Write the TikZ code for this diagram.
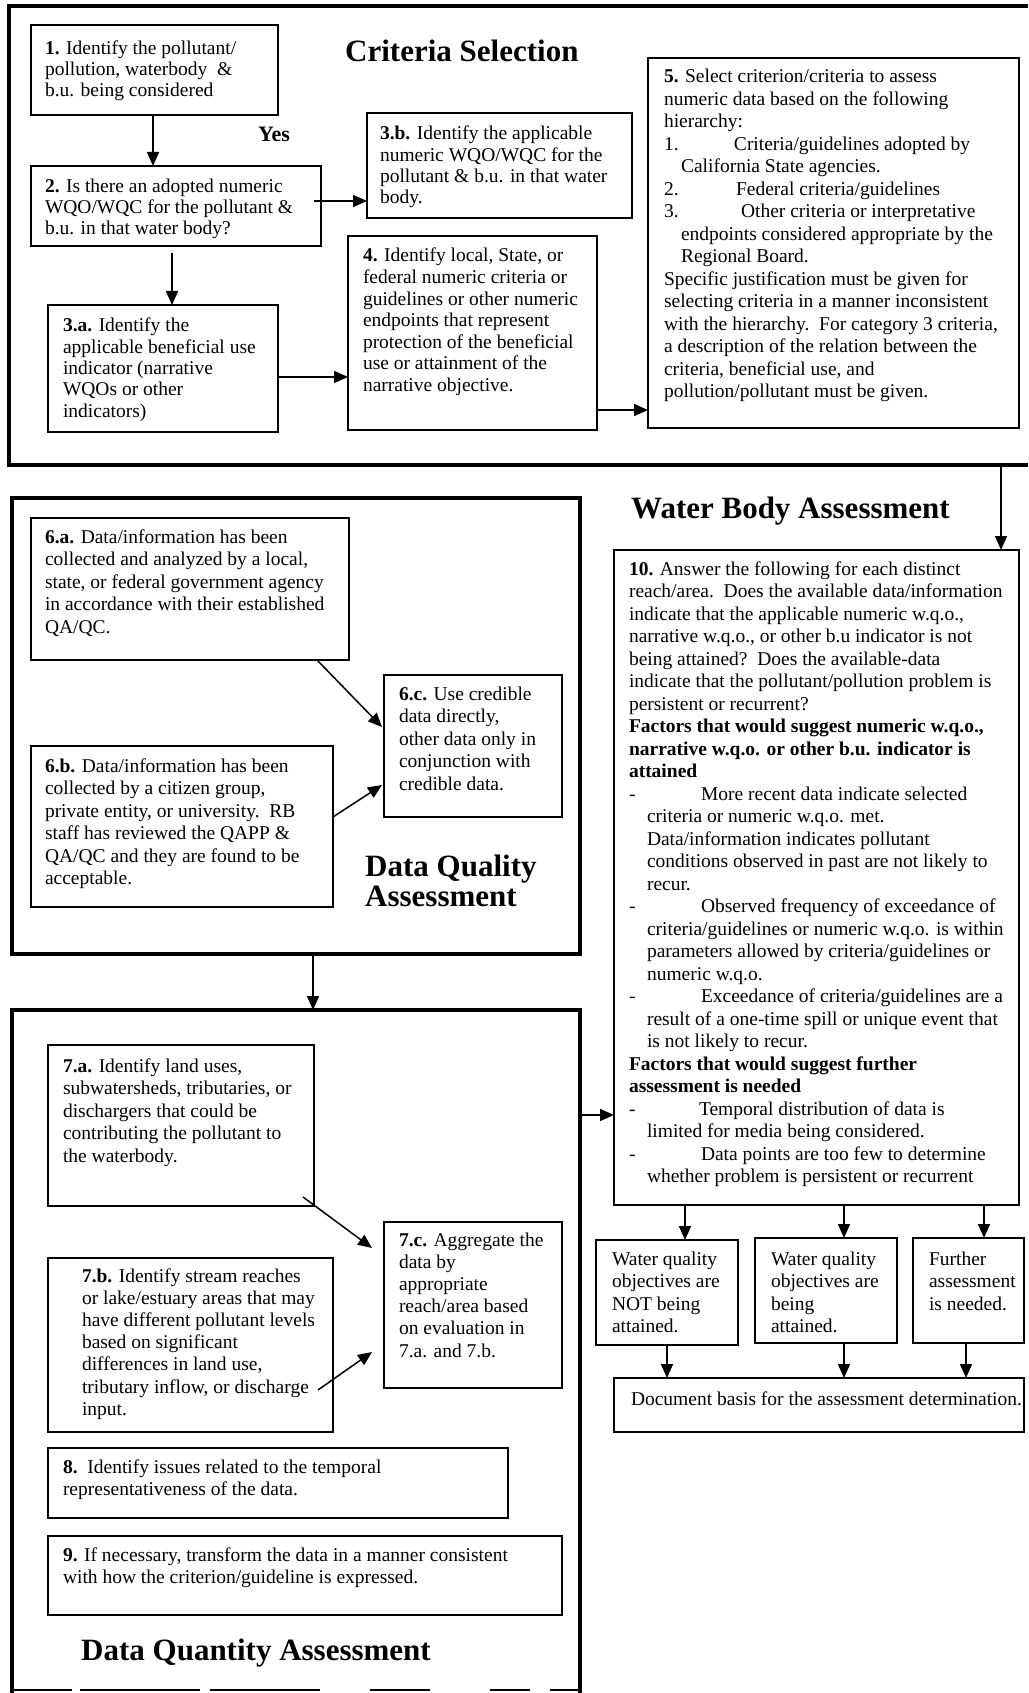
\documentclass[tikz,border=0pt]{standalone}
\usepackage{fontspec}
\setmainfont{Liberation Serif}
\usetikzlibrary{arrows.meta,calc}
% #1 width, #2 height, #3 left pad, #4 first baseline offset, #5 baselineskip, #6 text
\newcommand{\bt}[6]{\parbox[t][#2pt][t]{#1pt}{\fontsize{19.5pt}{#5pt}\selectfont\raggedright\leftskip=#3pt\relax\rightskip=-30pt plus 1fil\relax\vspace*{\dimexpr#4pt-0.7\baselineskip\relax}\strut #6}}
\newcommand{\tb}[2]{\makebox[#1pt][l]{#2}}
\begin{document}
\begin{tikzpicture}[x=1pt,y=-1pt,
 bx/.style={draw,line width=1.6pt,anchor=north west,inner sep=0pt,outer sep=0pt},
 arr/.style={line width=1.5pt,-{Triangle[length=14pt,width=12pt]}},
 ttl/.style={anchor=base west,inner sep=0pt,font=\fontsize{31pt}{31pt}\selectfont\bfseries},
 frm/.style={line width=3.5pt}]
\useasboundingbox (0,0) rectangle (1028,1693);
\fill[white] (0,0) rectangle (1028,1693);

% helper coordinates
\coordinate (x153) at (153,0);
\coordinate (x172) at (172,0);
\coordinate (y201) at (0,201);
\coordinate (y377) at (0,377);
\coordinate (y410) at (0,410);
\coordinate (c10) at (1001,465);
\coordinate (x313) at (313,0);
\coordinate (y1115) at (0,1115);
\coordinate (xa) at (685,0);
\coordinate (xb) at (844,0);
\coordinate (xc) at (984,0);
\coordinate (xd) at (667,0);
\coordinate (xe) at (966,0);

% ---------------- Criteria Selection frame
\coordinate (critTR) at (1028,6);
\coordinate (critTL) at (9,6);
\coordinate (critBL) at (9,465);
\coordinate (critBR) at (1028,465);
\draw[frm] (critTR) -- (critTL) -- (critBL) -- (critBR);

\node[ttl] (tcs) at (345,62) {Criteria Selection};
\node[anchor=base west,inner sep=0pt,font=\fontsize{22pt}{22pt}\selectfont\bfseries] (yes) at (258,142) {Yes};

\node[bx] (n1) at (31,25) {\bt{247}{90}{14}{30}{21}{\textbf{1.} Identify the pollutant/\\pollution, waterbody \ \&\\b.u. being considered}};
\node[bx] (n2) at (31,166) {\bt{290}{80}{14}{27}{21}{\textbf{2.} Is there an adopted numeric\\WQO/WQC for the pollutant \&\\b.u. in that water body?}};
\node[bx] (n3b) at (367,113) {\bt{265}{105}{13}{27}{21.3}{\textbf{3.b.} Identify the applicable\\numeric WQO/WQC for the\\pollutant \& b.u. in that water\\body.}};
\node[bx] (n3a) at (48,305) {\bt{230}{127}{15}{27}{21.3}{\textbf{3.a.} Identify the\\applicable beneficial use\\indicator (narrative\\WQOs or other\\indicators)}};
\node[bx] (n4) at (348,236) {\bt{249}{194}{15}{26}{21.6}{\textbf{4.} Identify local, State, or\\federal numeric criteria or\\guidelines or other numeric\\endpoints that represent\\protection of the beneficial\\use or attainment of the\\narrative objective.}};
\node[bx] (n5) at (648,58) {\bt{371}{370}{16}{25}{22.5}{\textbf{5.} Select criterion/criteria to assess\\numeric data based on the following\\hierarchy:\\\tb{70}{1.}Criteria/guidelines adopted by\\\hspace*{17pt}California State agencies.\\\tb{72}{2.}Federal criteria/guidelines\\\tb{77}{3.}Other criteria or interpretative\\\hspace*{17pt}endpoints considered appropriate by the\\\hspace*{17pt}Regional Board.\\Specific justification must be given for\\selecting criteria in a manner inconsistent\\with the hierarchy.\ \ For category 3 criteria,\\a description of the relation between the\\criteria, beneficial use, and\\pollution/pollutant must be given.}};

% ---------------- Water Body Assessment
\node[ttl] (twb) at (631,518) {Water Body Assessment};
\node[bx] (n10) at (614,550) {\bt{405}{655}{15}{25}{22.5}{\textbf{10.} Answer the following for each distinct\\reach/area.\ \ Does the available data/information\\indicate that the applicable numeric w.q.o.,\\narrative w.q.o., or other b.u indicator is not\\being attained?\ \ Does the available-data\\indicate that the pollutant/pollution problem is\\persistent or recurrent?\\\textbf{Factors that would suggest numeric w.q.o.,}\\\textbf{narrative w.q.o. or other b.u. indicator is}\\\textbf{attained}\\\tb{72}{-}More recent data indicate selected\\\hspace*{18pt}criteria or numeric w.q.o. met.\\\hspace*{18pt}Data/information indicates pollutant\\\hspace*{18pt}conditions observed in past are not likely to\\\hspace*{18pt}recur.\\\tb{72}{-}Observed frequency of exceedance of\\\hspace*{18pt}criteria/guidelines or numeric w.q.o. is within\\\hspace*{18pt}parameters allowed by criteria/guidelines or\\\hspace*{18pt}numeric w.q.o.\\\tb{72}{-}Exceedance of criteria/guidelines are a\\\hspace*{18pt}result of a one-time spill or unique event that\\\hspace*{18pt}is not likely to recur.\\\textbf{Factors that would suggest further}\\\textbf{assessment is needed}\\\tb{70}{-}Temporal distribution of data is\\\hspace*{18pt}limited for media being considered.\\\tb{72}{-}Data points are too few to determine\\\hspace*{18pt}whether problem is persistent or recurrent}};

\node[bx] (r1) at (596,1240) {\bt{142}{105}{16}{25}{22.5}{Water quality\\objectives are\\NOT being\\attained.}};
\node[bx] (r2) at (755,1238) {\bt{142}{105}{16}{27}{22.5}{Water quality\\objectives are\\being\\attained.}};
\node[bx] (r3) at (913,1238) {\bt{111}{105}{16}{27}{22.5}{Further\\assessment\\is needed.}};
\node[bx] (doc) at (614,1378) {\bt{410}{54}{17}{27}{22.5}{Document basis for the assessment determination.}};

% ---------------- Data Quality Assessment
\node[draw,line width=4.5pt,anchor=north west,minimum width=568pt,minimum height=456pt,inner sep=0pt,outer sep=0pt] (dq) at (12,498) {};
\node[bx] (n6a) at (31,518) {\bt{318}{142}{14}{25}{22.5}{\textbf{6.a.} Data/information has been\\collected and analyzed by a local,\\state, or federal government agency\\in accordance with their established\\QA/QC.}};
\node[bx] (n6b) at (31,746) {\bt{302}{161}{14}{26}{22.5}{\textbf{6.b.} Data/information has been\\collected by a citizen group,\\private entity, or university.\ \ RB\\staff has reviewed the QAPP \&\\QA/QC and they are found to be\\acceptable.}};
\node[bx] (n6c) at (384,675) {\bt{178}{142}{15}{25}{22.5}{\textbf{6.c.} Use credible\\data directly,\\other data only in\\conjunction with\\credible data.}};
\node[ttl] (tdq1) at (365,876) {Data Quality};
\node[ttl] (tdq2) at (365,906) {Assessment};

% ---------------- Data Quantity Assessment
\node[anchor=north west,minimum width=568pt,minimum height=700pt,inner sep=0pt,outer sep=0pt] (dqn) at (12,1010) {};
\draw[line width=4.5pt] (dqn.south west) -- (dqn.north west) -- (dqn.north east) -- (dqn.south east);
\draw[line width=2pt,dash pattern=on 60pt off 8pt on 120pt off 10pt on 110pt off 50pt on 60pt off 60pt on 40pt off 20pt]
  ($(dqn.south west)+(0,-20)$) -- ($(dqn.south east)+(0,-20)$);
\node[bx] (n7a) at (48,1045) {\bt{266}{161}{15}{27}{22.5}{\textbf{7.a.} Identify land uses,\\subwatersheds, tributaries, or\\dischargers that could be\\contributing the pollutant to\\the waterbody.}};
\node[bx] (n7b) at (48,1258) {\bt{285}{174}{34}{24}{22.2}{\textbf{7.b.} Identify stream reaches\\or lake/estuary areas that may\\have different pollutant levels\\based on significant\\differences in land use,\\tributary inflow, or discharge\\input.}};
\node[bx] (n7c) at (384,1222) {\bt{178}{166}{15}{24}{22.2}{\textbf{7.c.} Aggregate the\\data by\\appropriate\\reach/area based\\on evaluation in\\7.a. and 7.b.}};
\node[bx] (n8) at (48,1448) {\bt{460}{70}{15}{25}{22.2}{\textbf{8.}\ \ Identify issues related to the temporal\\representativeness of the data.}};
\node[bx] (n9) at (48,1536) {\bt{514}{79}{15}{25}{22.2}{\textbf{9.} If necessary, transform the data in a manner consistent\\with how the criterion/guideline is expressed.}};
\node[ttl] (tdqn) at (81,1660) {Data Quantity Assessment};

% ---------------- connectors
\draw[arr] (x153 |- n1.south) -- (x153 |- n2.north);
\draw[arr] ($(n2.east |- y201)+(-7,0)$) -- (n3b.west |- y201);
\draw[arr] ($(x172 |- n2.south)+(0,7)$) -- (x172 |- n3a.north);
\draw[arr] (n3a.east |- y377) -- (n4.west |- y377);
\draw[arr] (n4.east |- y410) -- (n5.west |- y410);
\draw[arr] (c10) -- (c10 |- n10.north);
\draw[arr] ($(n6a.south east)+(-32,0)$) -- ($(n6c.north west)+(-2,52)$);
\draw[arr] ($(n6b.north east)+(0,71)$) -- ($(n6c.north west)+(-2,110)$);
\draw[arr] (x313 |- dq.south) -- (x313 |- dqn.north);
\draw[arr] ($(n7a.south east)+(-11,-9)$) -- ($(n7c.north west)+(-12,26)$);
\draw[arr] ($(n7b.north east)+(-15,132)$) -- ($(n7c.north west)+(-12,130)$);
\draw[arr] (dqn.east |- y1115) -- (n10.west |- y1115);
\draw[arr] (xa |- n10.south) -- (xa |- r1.north);
\draw[arr] (xb |- n10.south) -- (xb |- r2.north);
\draw[arr] (xc |- n10.south) -- (xc |- r3.north);
\draw[arr] (xd |- r1.south) -- (xd |- doc.north);
\draw[arr] (xb |- r2.south) -- (xb |- doc.north);
\draw[arr] (xe |- r3.south) -- (xe |- doc.north);
\end{tikzpicture}
\end{document}
